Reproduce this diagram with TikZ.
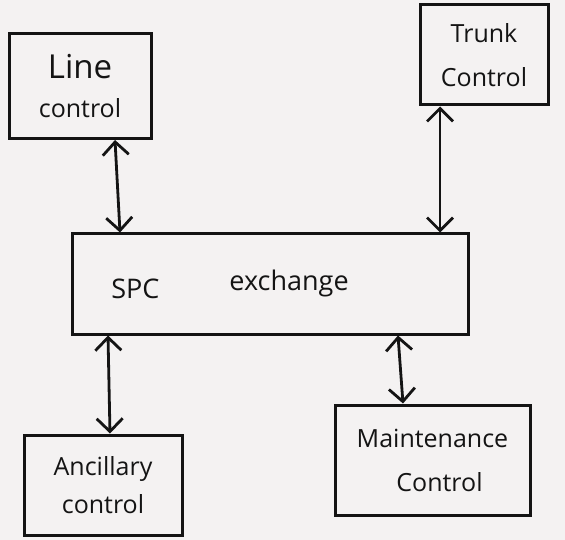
\documentclass[tikz,border=0pt]{standalone}
\usepackage{fontspec}
\setmainfont{Open Sans}
\usetikzlibrary{arrows.meta}
\definecolor{paper}{RGB}{244,242,242}
\definecolor{ink}{RGB}{20,20,20}
\begin{document}
\begin{tikzpicture}[x=1pt,y=-1pt,
  blockbox/.style={draw=ink,line width=3pt,minimum width=#1,inner sep=0pt,
    align=center,text=ink,font=\fontsize{25}{30}\selectfont},
  biarrow/.style={draw=ink,line width=2.8pt,
    {Straight Barb[length=13pt,width=26pt,line width=2.8pt]}-{Straight Barb[length=13pt,width=26pt,line width=2.8pt]}}]
  % page
  \fill[paper] (0,0) rectangle (565,540);
  \useasboundingbox (0,0) rectangle (565,540);

  % blocks
  \node[blockbox=142pt,minimum height=105pt] (line) at (80,86)
    {{\fontsize{33}{36}\selectfont Line}\\[9pt]control};
  \node[blockbox=128pt,minimum height=100pt] (trunk) at (484,55)
    {Trunk\\[14pt]Control};
  \node[blockbox=396pt,minimum height=100pt] (spc) at (270,284)
    {\hspace*{-80pt}{\fontsize{27}{30}\selectfont SPC\hspace{70pt}\raisebox{8pt}{exchange}}};
  \node[blockbox=158pt,minimum height=100pt] (anc) at (103,485)
    {Ancillary\\[8pt]control};
  \node[blockbox=195pt,minimum height=110pt] (maint) at (432.5,460)
    {Maintenance\\[14pt]\hspace*{14pt}Control};

  % links to the exchange
  \draw[biarrow] ([xshift=35pt]line.south) -- ([xshift=-150pt]spc.north);
  \draw[biarrow] ([xshift=-44pt]trunk.south) -- ([xshift=170pt]spc.north);
  \draw[biarrow] ([xshift=-162pt]spc.south) -- ([xshift=7pt]anc.north);
  \draw[biarrow] ([xshift=128pt]spc.south) -- ([xshift=-29.5pt]maint.north);
\end{tikzpicture}
\end{document}
